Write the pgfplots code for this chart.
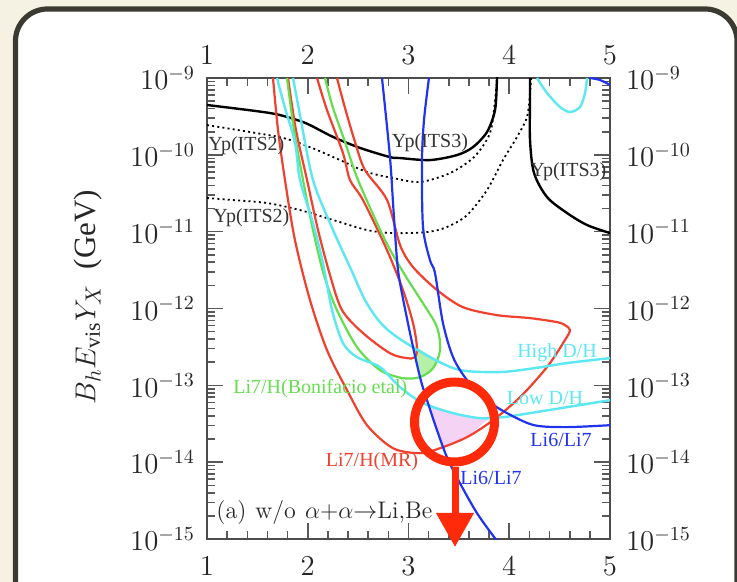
\documentclass[border=0pt]{standalone}
\usepackage{fontspec}
\setmainfont{Liberation Serif}
\usepackage{pgfplots}
\pgfplotsset{compat=1.18}
\usetikzlibrary{arrows.meta}

\definecolor{bg}{HTML}{F6F2E3}
\definecolor{framec}{HTML}{3B3A31}
\definecolor{cred}{HTML}{F0402E}
\definecolor{ccyan}{HTML}{5CE8F2}
\definecolor{cgreen}{HTML}{66DD4F}
\definecolor{cblue}{HTML}{2233F0}
\definecolor{markc}{HTML}{FF2A0A}
\definecolor{pinkf}{HTML}{F5D3F5}
\definecolor{greenf}{HTML}{B5EFA8}

\begin{document}
\begin{tikzpicture}
\useasboundingbox (0pt,0pt) rectangle (368.5pt,291pt);
\fill[bg] (0pt,0pt) rectangle (368.5pt,291pt);
\filldraw[fill=white,draw=framec,line width=2.6pt,rounded corners=16pt] (7.75pt,-20pt) rectangle (368.5pt,286.5pt);

% main axis: ticks, lower/left labels, curves
\begin{axis}[at={(103.5pt,21.5pt)}, anchor=south west, scale only axis,
  width=201.5pt, height=230.5pt,
  xmin=1, xmax=5, ymin=1e-15, ymax=1e-9, ymode=log,
  xtick={1,2,3,4,5}, minor x tick num=4,
  ytick={1e-15,1e-14,1e-13,1e-12,1e-11,1e-10,1e-9},
  tick align=inside, major tick length=8pt, minor tick length=4pt,
  axis line style={line width=1.3pt, draw=black!70},
  every tick/.style={black!65, line width=0.8pt},
  tick label style={font=\fontsize{14.5}{14.5}\selectfont, black!85},
  yticklabel style={xshift=-2.5pt},
  xticklabel style={yshift=-5.5pt},
  clip=true]

% filled allowed regions
\addplot[draw=none, fill=greenf] coordinates {(3.038,3.4e-13) (3.28,2.14e-13) (3.243,1.67e-13) (3.114,1.28e-13)} -- cycle;
\addplot[draw=none, fill=pinkf] coordinates {(3.196,5.75e-14) (3.442,4.35e-14) (3.710,3.74e-14) (3.80,3.72e-14) (3.581,2.12e-14) (3.345,1.58e-14) (3.283,2.61e-14)} -- cycle;

% Yp(ITS3) solid
\addplot[black, line width=1.2pt, smooth] coordinates {(1.0,4.45e-10) (1.625,3.50e-10) (1.893,2.84e-10) (2.022,2.44e-10) (2.251,1.71e-10) (2.519,1.23e-10) (2.816,9.35e-11) (2.916,9.08e-11) (3.213,8.55e-11) (3.481,9.93e-11) (3.640,1.26e-10) (3.779,1.98e-10) (3.859,3.83e-10) (3.878,9.42e-10) (3.878,1e-9)};
\addplot[black, line width=1.2pt, smooth] coordinates {(4.206,1e-9) (4.206,5.18e-10) (4.206,1.56e-10) (4.246,5.79e-11) (4.375,2.82e-11) (4.573,1.75e-11) (4.772,1.22e-11) (5.0,9.59e-12)};
% Yp(ITS2) dotted
\addplot[black, line width=0.9pt, dash pattern=on 1pt off 1.6pt, smooth] coordinates {(1.0,2.44e-10) (1.427,1.98e-10) (1.754,1.66e-10) (2.022,1.26e-10) (2.320,8.55e-11) (2.588,5.97e-11) (2.846,4.99e-11) (3.114,4.43e-11) (3.412,5.79e-11) (3.650,9.35e-11) (3.809,1.92e-10) (3.859,5.18e-10) (3.878,9.42e-10)};
\addplot[black, line width=0.9pt, dash pattern=on 1pt off 1.6pt, smooth] coordinates {(1.0,2.74e-11) (1.258,2.58e-11) (1.596,2.36e-11) (1.923,1.91e-11) (2.251,1.42e-11) (2.588,1.05e-11) (2.846,9.59e-12) (3.184,9.89e-12) (3.382,1.15e-11) (3.581,1.64e-11) (3.779,3.48e-11) (3.938,8.55e-11) (4.077,1.71e-10) (4.176,3.10e-10) (4.206,6.38e-10) (4.216,1e-9)};

% cyan small loop top right
\addplot[ccyan, line width=1.2pt, smooth] coordinates {(4.275,1e-9) (4.375,6.38e-10) (4.504,4.19e-10) (4.603,3.61e-10) (4.702,4.19e-10) (4.752,6.38e-10) (4.772,1e-9)};
% blue corner top right
\addplot[cblue, line width=1.1pt, smooth] coordinates {(4.801,1e-9) (4.901,9.42e-10) (5.0,8.11e-10)};

% Li7/H (MR) outer red
\addplot[cred, line width=1.1pt, smooth] coordinates {(1.655,1e-9) (1.705,2.10e-10) (1.774,4.70e-11) (1.873,7.78e-12) (2.022,1.29e-12) (2.191,2.87e-13) (2.390,8.65e-14) (2.588,3.03e-14) (2.846,1.52e-14) (3.114,1.31e-14) (3.313,1.52e-14) (3.581,2.12e-14) (3.839,3.52e-14) (4.107,7.01e-14) (4.375,1.73e-13) (4.553,3.88e-13) (4.603,5.24e-13) (4.553,6.08e-13) (4.474,6.65e-13) (4.206,7.50e-13) (3.878,8.20e-13) (3.541,1.04e-12) (3.283,1.74e-12) (3.045,3.46e-12) (2.916,6.70e-12) (2.787,2.58e-11) (2.568,6.34e-11) (2.469,1.47e-10) (2.370,4.06e-10) (2.290,1e-9)};
% inner red
\addplot[cred, line width=1.1pt, smooth] coordinates {(1.804,1e-9) (1.883,2.10e-10) (1.993,4.70e-11) (2.102,1.05e-11) (2.221,2.72e-12) (2.340,9.53e-13) (2.548,4.79e-13) (2.816,2.62e-13) (2.985,2.26e-13) (3.065,2.33e-13) (3.084,3.14e-13) (3.045,6.46e-13) (2.945,1.74e-12) (2.787,5.75e-12) (2.548,2.58e-11) (2.419,4.70e-11) (2.350,1.05e-10) (2.191,3.83e-10) (2.092,1e-9)};
% green Bonifacio
\addplot[cgreen, line width=1.1pt, smooth] coordinates {(1.794,1e-9) (1.864,2.10e-10) (1.953,4.70e-11) (2.052,1.05e-11) (2.161,2.72e-12) (2.290,9.53e-13) (2.489,3.14e-13) (2.717,1.58e-13) (2.945,1.24e-13) (3.114,1.28e-13) (3.243,1.67e-13) (3.313,2.87e-13) (3.283,5.73e-13) (3.144,1.17e-12) (2.965,2.72e-12) (2.767,7.78e-12) (2.499,4.70e-11) (2.370,1.47e-10) (2.251,4.06e-10) (2.171,1e-9)};
% Low D/H
\addplot[ccyan, line width=1.2pt, smooth] coordinates {(1.695,1e-9) (1.774,4.06e-10) (1.873,1.47e-10) (1.923,4.70e-11) (2.052,1.29e-11) (2.151,3.90e-12) (2.241,9.53e-13) (2.350,3.54e-13) (2.489,2.33e-13) (2.717,1.73e-13) (2.916,9.48e-14) (3.144,5.86e-14) (3.442,4.35e-14) (3.710,3.74e-14) (3.938,3.85e-14) (4.206,4.35e-14) (4.573,5.20e-14) (5.0,6.41e-14)};
% High D/H
\addplot[ccyan, line width=1.2pt, smooth] coordinates {(1.854,1e-9) (1.923,3.30e-10) (2.052,4.70e-11) (2.251,1.05e-11) (2.419,3.46e-12) (2.568,1.29e-12) (2.717,6.65e-13) (2.886,4.25e-13) (3.213,2.33e-13) (3.511,1.58e-13) (3.908,1.49e-13) (4.246,1.67e-13) (4.573,1.95e-13) (5.0,2.26e-13)};
% Li6/Li7 blue
\addplot[cblue, line width=1.1pt, smooth] coordinates {(2.737,1e-9) (2.816,9.35e-11) (2.85,2.0e-11) (2.886,4.27e-12) (2.916,2.14e-12) (3.015,4.79e-13) (3.114,1.28e-13) (3.184,6.41e-14) (3.283,2.61e-14) (3.382,1.16e-14) (3.511,5.33e-15) (3.680,2.17e-15) (3.859,1.02e-15) (3.87,1e-15)};
\addplot[cblue, line width=1.1pt, smooth] coordinates {(3.203,1e-9) (3.154,2.84e-10) (3.134,8.55e-11) (3.144,1.15e-11) (3.213,4.27e-12) (3.263,2.89e-12) (3.342,6.46e-13) (3.442,2.33e-13) (3.581,1.17e-13) (3.779,6.41e-14) (3.978,4.35e-14) (4.246,3.03e-14) (4.573,2.86e-14) (5.0,3.03e-14)};

% labels
\node[anchor=west, font=\fontsize{10}{10}\selectfont, black!80, inner sep=0pt] at (axis cs:1.01,1.30e-10) {Yp(ITS2)};
\node[anchor=west, font=\fontsize{10}{10}\selectfont, black!80, inner sep=0pt] at (axis cs:1.06,1.50e-11) {Yp(ITS2)};
\node[font=\fontsize{10}{10}\selectfont, black!80, inner sep=0pt] at (axis cs:3.213,1.43e-10) {Yp(ITS3)};
\node[anchor=west, font=\fontsize{10}{10}\selectfont, black!80, inner sep=0pt] at (axis cs:4.206,5.97e-11) {Yp(ITS3)};
\node[anchor=west, font=\fontsize{10}{10}\selectfont, cgreen, inner sep=0pt] at (axis cs:1.258,9.2e-14) {Li7/H(Bonifacio etal)};
\node[font=\fontsize{10}{10}\selectfont, cred, inner sep=0pt] at (axis cs:2.638,1e-14) {Li7/H(MR)};
\node[font=\fontsize{10}{10}\selectfont, ccyan, inner sep=0pt] at (axis cs:4.474,2.62e-13) {High D/H};
\node[font=\fontsize{10}{10}\selectfont, ccyan, inner sep=0pt] at (axis cs:4.355,6.81e-14) {Low D/H};
\node[font=\fontsize{10}{10}\selectfont, cblue, inner sep=0pt] at (axis cs:4.514,1.93e-14) {Li6/Li7};
\node[font=\fontsize{10}{10}\selectfont, cblue, inner sep=0pt] at (axis cs:3.819,6.19e-15) {Li6/Li7};
\node[anchor=west, font=\fontsize{12}{12}\selectfont, inner sep=0pt, black!85] at (axis cs:1.09,2.23e-15) {\fontspec{Latin Modern Roman}(a)\hspace{4.5pt}w/o\hspace{4.5pt}$\alpha$+$\alpha{\to}$Li,Be};
\end{axis}

% second axis: labels on top and right
\begin{axis}[at={(103.5pt,21.5pt)}, anchor=south west, scale only axis,
  width=201.5pt, height=230.5pt,
  xmin=1, xmax=5, ymin=1e-15, ymax=1e-9, ymode=log,
  xtick={1,2,3,4,5}, minor tick num=0,
  ytick={1e-15,1e-14,1e-13,1e-12,1e-11,1e-10,1e-9},
  yminorticks=false,
  axis line style={draw=none}, major tick length=0pt,
  xticklabel pos=upper, yticklabel pos=right,
  tick label style={font=\fontsize{14.5}{14.5}\selectfont, black!85},
  yticklabel style={xshift=4.5pt},
  xticklabel style={yshift=3pt}]
\end{axis}

\node[rotate=90, font=\fontsize{15.5}{15.5}\selectfont, black!85] at (44pt,142.5pt) {$B_hE_{\mathrm{vis}}Y_X$ \ (GeV)};

% annotation
\draw[markc, line width=4.5pt] (227.25pt,80pt) circle[radius=20pt];
\draw[markc, line width=3.5pt, -{Triangle[width=18pt,length=17pt]}] (227.5pt,57.5pt) -- (227.5pt,17.5pt);
\end{tikzpicture}
\end{document}
